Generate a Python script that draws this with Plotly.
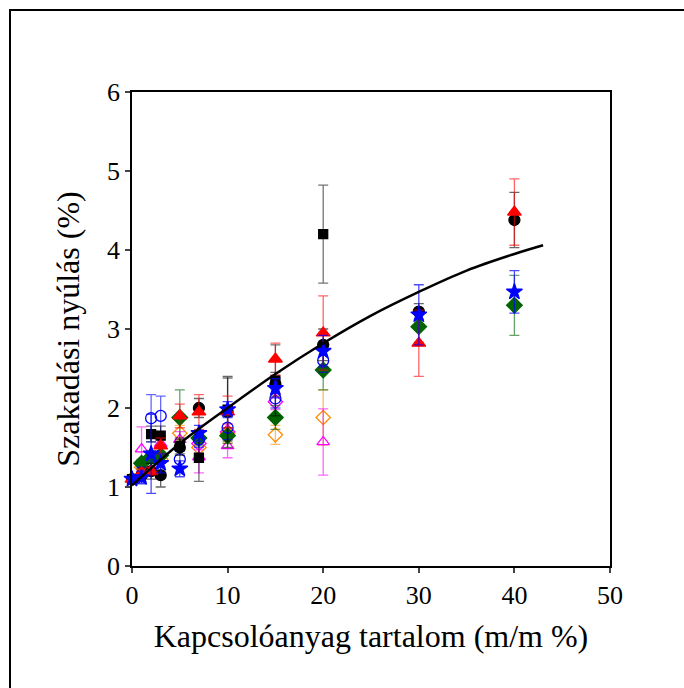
import plotly.graph_objects as go

# ---- data ----
x_blk_circ = [0, 1, 2, 3, 5, 7, 10, 15, 20, 30, 40]
y_blk_circ = [1.1, 1.15, 1.2, 1.15, 1.5, 2.0, 1.95, 2.3, 2.8, 3.22, 4.38]
e_blk_circ = [0.05, 0.08, 0.1, 0.15, 0.1, 0.12, 0.45, 0.15, 0.2, 0.1, 0.35]

x_blk_sq = [0, 2, 3, 5, 7, 10, 15, 20]
y_blk_sq = [1.1, 1.67, 1.65, 1.52, 1.37, 1.98, 2.35, 4.2]
e_blk_sq = [0.05, 0.1, 0.12, 0.1, 0.3, 0.4, 0.45, 0.62]

x_red_tri = [0, 1, 2, 3, 5, 7, 10, 15, 20, 30, 40]
y_red_tri = [1.1, 1.18, 1.2, 1.52, 1.9, 1.95, 1.95, 2.62, 2.95, 2.82, 4.48]
e_red_tri = [0.05, 0.05, 0.05, 0.1, 0.15, 0.22, 0.2, 0.2, 0.47, 0.42, 0.42]

x_blue_star = [0, 1, 2, 3, 5, 7, 10, 15, 20, 30, 40]
y_blue_star = [1.1, 1.12, 1.42, 1.3, 1.23, 1.68, 1.98, 2.25, 2.72, 3.18, 3.47]
e_blue_star = [0.05, 0.08, 0.5, 0.12, 0.1, 0.1, 0.1, 0.12, 0.2, 0.38, 0.27]

x_blue_oc = [1, 2, 3, 5, 7, 10, 15, 20]
y_blue_oc = [1.15, 1.87, 1.9, 1.35, 1.6, 1.75, 2.12, 2.6]
e_blue_oc = [0.1, 0.3, 0.25, 0.1, 0.1, 0.15, 0.12, 0.15]

x_green = [1, 2, 3, 5, 7, 10, 15, 20, 30, 40]
y_green = [1.3, 1.38, 1.4, 1.88, 1.62, 1.65, 1.88, 2.48, 3.03, 3.3]
e_green = [0.05, 0.08, 0.1, 0.35, 0.1, 0.1, 0.15, 0.25, 0.2, 0.38]

x_orange = [1, 3, 5, 7, 10, 15, 20]
y_orange = [1.25, 1.35, 1.68, 1.5, 1.68, 1.66, 1.88]
e_orange = [0.08, 0.1, 0.1, 0.15, 0.12, 0.12, 0.35]

x_mag_tri = [1, 3, 5, 7, 10, 20]
y_mag_tri = [1.48, 1.55, 1.6, 1.38, 1.52, 1.57]
e_mag_tri = [0.28, 0.15, 0.1, 0.2, 0.15, 0.42]

x_mag_dia = [7, 10, 15]
y_mag_dia = [1.55, 1.7, 2.08]
e_mag_dia = [0.08, 0.1, 0.1]

x_fit = [0, 5, 10, 15, 20, 25, 30, 35, 40, 43]
y_fit = [1.02, 1.55, 2.0, 2.43, 2.82, 3.17, 3.47, 3.74, 3.95, 4.06]

x_ticks = [0, 10, 20, 30, 40, 50]
y_ticks = [0, 1, 2, 3, 4, 5, 6]

fig = go.Figure()

series = [
    (x_orange, y_orange, e_orange, "diamond-open", "#ff8c00", "rgba(255,140,0,0.6)", 11),
    (x_mag_tri, y_mag_tri, e_mag_tri, "triangle-up-open", "#ff00ff", "rgba(255,0,255,0.6)", 11),
    (x_mag_dia, y_mag_dia, e_mag_dia, "diamond-open", "#ff00ff", "rgba(255,0,255,0.6)", 11),
    (x_green, y_green, e_green, "diamond", "#006400", "rgba(0,100,0,0.6)", 12),
    (x_blue_oc, y_blue_oc, e_blue_oc, "circle-open", "#0000ff", "rgba(0,0,255,0.6)", 11),
    (x_blk_sq, y_blk_sq, e_blk_sq, "square", "#000000", "rgba(0,0,0,0.55)", 9),
    (x_blk_circ, y_blk_circ, e_blk_circ, "circle", "#000000", "rgba(0,0,0,0.6)", 11),
    (x_red_tri, y_red_tri, e_red_tri, "triangle-up", "#ff0000", "rgba(255,0,0,0.6)", 12),
    (x_blue_star, y_blue_star, e_blue_star, "star", "#0000ff", "rgba(0,0,255,0.7)", 12),
]

for xs, ys, es, sym, col, ecol, sz in series:
    fig.add_trace(go.Scatter(
        x=xs, y=ys, mode="markers",
        error_y=dict(type="data", array=es, visible=True, color=ecol, thickness=1.3, width=5),
        marker=dict(symbol=sym, size=sz, color=col,
                    line=dict(color=col, width=1.3)),
        cliponaxis=False, showlegend=False,
    ))

fig.add_trace(go.Scatter(
    x=x_fit, y=y_fit, mode="lines",
    line=dict(color="black", width=2.5, shape="spline"),
    showlegend=False, cliponaxis=False,
))

font_family = "Liberation Serif"

fig.update_layout(
    width=684, height=688,
    paper_bgcolor="white", plot_bgcolor="white",
    margin=dict(l=132, r=74, t=92, b=122),
    font=dict(family=font_family, color="black"),
    xaxis=dict(
        range=[0, 50], tickvals=x_ticks, ticks="outside", ticklen=5, tickwidth=1.5,
        showline=True, linecolor="black", linewidth=1.5, mirror=True,
        showgrid=False, zeroline=False,
        tickfont=dict(size=26, family=font_family),
        title=dict(text="Kapcsolóanyag tartalom (m/m %)",
                   font=dict(size=32, family=font_family), standoff=16),
    ),
    yaxis=dict(
        range=[0, 6], tickvals=y_ticks, ticks="outside", ticklen=5, tickwidth=1.5,
        showline=True, linecolor="black", linewidth=1.5, mirror=True,
        showgrid=False, zeroline=False,
        tickfont=dict(size=26, family=font_family),
        title=dict(text="Szakadási nyúlás (%)",
                   font=dict(size=32, family=font_family), standoff=18),
    ),
    shapes=[dict(type="rect", xref="paper", yref="paper",
                 x0=(10 - 132) / 478, x1=(700 - 132) / 478,
                 y0=(566 - 700) / 474, y1=(566 - 10) / 474,
                 line=dict(color="black", width=2), layer="below")],
)

fig.write_html("out.html")
